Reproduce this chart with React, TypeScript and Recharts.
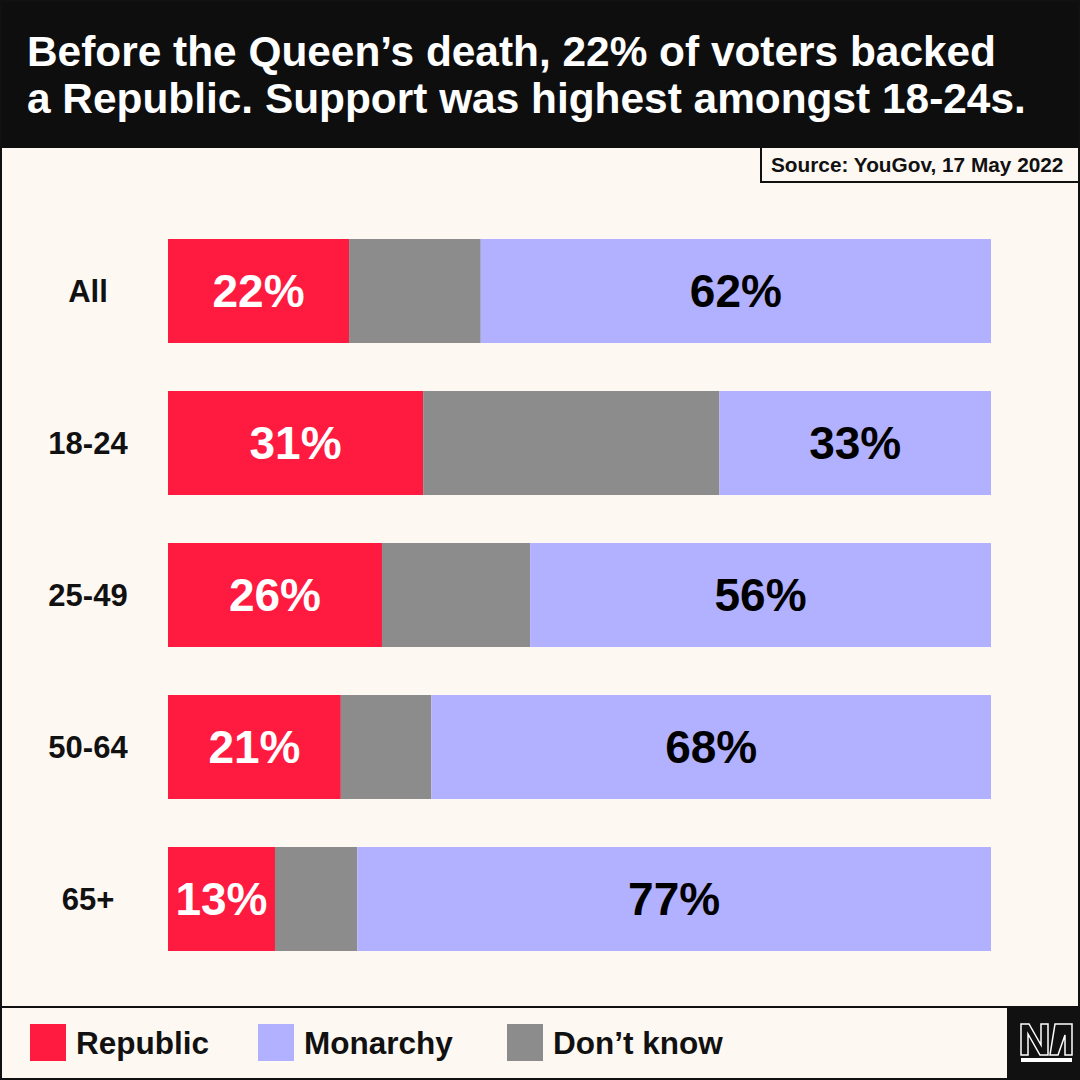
import { BarChart, Bar, XAxis, YAxis, LabelList } from "recharts";

const groups = ["All", "18-24", "25-49", "50-64", "65+"];
const republic = [22, 31, 26, 21, 13];
const dontKnow = [16, 36, 18, 11, 10];
const monarchy = [62, 33, 56, 68, 77];

const titleLines = [
  "Before the Queen\u2019s death, 22% of voters backed",
  "a Republic. Support was highest amongst 18-24s.",
];
const source = "Source: YouGov, 17 May 2022";

const legendItems = [
  { name: "Republic", color: "#ff1a40" },
  { name: "Monarchy", color: "#b1b1ff" },
  { name: "Don\u2019t know", color: "#8c8c8c" },
];

const data = groups.map((g, i) => ({
  group: g,
  republic: republic[i],
  dontKnow: dontKnow[i],
  monarchy: monarchy[i],
}));

const font = '"Liberation Sans", Arial, sans-serif';
const ink = "#111111";
const cream = "#fef8f3";

const pct = (v: any) => `${v}%`;

function GroupTick(props: any) {
  const { y, payload } = props;
  return (
    <text
      x={88}
      y={y}
      textAnchor="middle"
      dominantBaseline="central"
      fontFamily={font}
      fontWeight={700}
      fontSize={31}
      fill={ink}
    >
      {payload.value}
    </text>
  );
}

function Logo() {
  return (
    <svg width={73} height={73} style={{ position: "absolute", left: 1007, top: 1007 }}>
      <rect width={73} height={73} fill={ink} />
      <g transform="translate(-1007,-1007)" fill={ink} stroke="#ffffff" strokeWidth={1.5}>
        <path d="M1021,1024 L1029,1024 L1041,1045 L1041,1024 L1048,1024 L1048,1055 L1040,1055 L1028,1034 L1028,1055 L1021,1055 Z" />
        <path d="M1055,1024 L1072,1024 L1072,1055 L1065,1055 L1065,1035 L1058,1055 L1050,1055 Z" />
      </g>
      <rect x={14} y={51} width={51} height={4} fill="#ffffff" />
    </svg>
  );
}

export default function App() {
  return (
    <div
      style={{
        position: "relative",
        width: 1080,
        height: 1080,
        background: cream,
        fontFamily: font,
        overflow: "hidden",
      }}
    >
      <style>{"body{margin:0}"}</style>

      {/* header */}
      <div style={{ position: "absolute", left: 0, top: 0, width: 1080, height: 148, background: "#0e0e0e" }} />
      <svg width={1080} height={148} style={{ position: "absolute", left: 0, top: 0 }}>
        {titleLines.map((line, i) => (
          <text key={i} x={27} y={66 + i * 47} fill="#ffffff" fontFamily={font} fontWeight={700} fontSize={42.4}>
            {line}
          </text>
        ))}
      </svg>

      {/* source box */}
      <div
        style={{
          position: "absolute",
          left: 760,
          top: 148,
          width: 320,
          height: 35,
          boxSizing: "border-box",
          borderLeft: `2px solid ${ink}`,
          borderBottom: `2px solid ${ink}`,
        }}
      />
      <svg width={320} height={35} style={{ position: "absolute", left: 760, top: 148 }}>
        <text x={11} y={24} fill={ink} fontFamily={font} fontWeight={700} fontSize={20.8}>
          {source}
        </text>
      </svg>

      {/* chart */}
      <div style={{ position: "absolute", left: 0, top: 148 }}>
        <BarChart
          width={1080}
          height={859}
          data={data}
          layout="vertical"
          margin={{ top: 67, right: 89, bottom: 32, left: 0 }}
        >
          <XAxis type="number" domain={[0, 100]} hide />
          <YAxis
            type="category"
            dataKey="group"
            width={168}
            tickLine={false}
            axisLine={false}
            tick={<GroupTick />}
          />
          <Bar dataKey="republic" stackId="a" fill="#ff1a40" barSize={104} isAnimationActive={false}>
            <LabelList
              dataKey="republic"
              position="center"
              formatter={pct}
              fill="#ffffff"
              fontFamily={font}
              fontWeight={700}
              fontSize={46}
            />
          </Bar>
          <Bar dataKey="dontKnow" stackId="a" fill="#8c8c8c" barSize={104} isAnimationActive={false} />
          <Bar dataKey="monarchy" stackId="a" fill="#b1b1ff" barSize={104} isAnimationActive={false}>
            <LabelList
              dataKey="monarchy"
              position="center"
              formatter={pct}
              fill="#000000"
              fontFamily={font}
              fontWeight={700}
              fontSize={46}
            />
          </Bar>
        </BarChart>
      </div>

      {/* legend */}
      <div style={{ position: "absolute", left: 0, top: 1006, width: 1080, height: 2, background: ink }} />
      <svg width={1000} height={72} style={{ position: "absolute", left: 0, top: 1008 }}>
        {legendItems.map((item, i) => {
          const x = [30, 258, 507][i];
          return (
            <g key={item.name}>
              <rect x={x} y={16} width={36} height={37} fill={item.color} />
              <text x={x + 46} y={46} fill={ink} fontFamily={font} fontWeight={700} fontSize={31.5}>
                {item.name}
              </text>
            </g>
          );
        })}
      </svg>
      <Logo />

      {/* outer frame */}
      <div
        style={{
          position: "absolute",
          left: 0,
          top: 0,
          width: 1080,
          height: 1080,
          boxSizing: "border-box",
          border: `2px solid ${ink}`,
          pointerEvents: "none",
        }}
      />
    </div>
  );
}
